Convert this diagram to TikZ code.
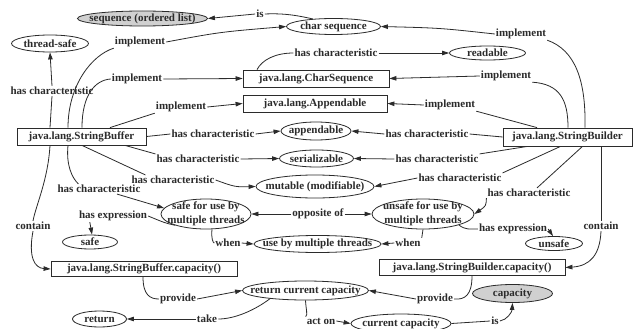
\documentclass[tikz,border=0pt]{standalone}
\usepackage{fontspec}
\setmainfont{Liberation Serif}
\usetikzlibrary{shapes.geometric,arrows.meta,calc}
\definecolor{ln}{HTML}{2B2B2B}
\definecolor{gfill}{HTML}{D0D0D0}
\begin{document}
\begin{tikzpicture}[x=1pt,y=-1pt,
  every node/.append style={font=\bfseries\fontsize{11}{14}\selectfont, text=ln},
  box/.style 2 args={draw=ln, line width=0.8pt, rectangle, minimum width=#1, minimum height=#2, inner sep=0pt},
  ell/.style 2 args={draw=ln, line width=0.8pt, ellipse, minimum width=#1, minimum height=#2, inner sep=0pt},
  lab/.style={inner sep=1pt},
  e/.style={draw=ln, line width=0.8pt},
  ar/.style={e, -{Triangle[length=7pt,width=4.5pt]}},
  ar2/.style={e, {Triangle[length=7pt,width=4.5pt]}-{Triangle[length=7pt,width=4.5pt]}}
]
\useasboundingbox (0,0) rectangle (634,329);
\fill[white] (0,0) rectangle (634,329);

% ---- concept nodes ----
\node[ell={130pt}{15pt}, fill=gfill, label={center:sequence (ordered list)}] (seq) at (142.5,18.5) {};
\node[ell={94pt}{16pt}, label={center:char sequence}] (cs) at (333.5,26.5) {};
\node[ell={77pt}{17pt}, label={center:thread-safe}] (ts) at (50,43.5) {};
\node[ell={76pt}{14pt}, label={center:readable}] (rd) at (487.5,53) {};
\node[box={146pt}{17pt}] (csb) at (316,78.5) {java.lang.CharSequence};
\node[box={144pt}{17pt}] (apb) at (315,103.5) {java.lang.Appendable};
\node[box={129pt}{17pt}] (sbf) at (81.5,136.5) {java.lang.StringBuffer};
\node[box={129pt}{18pt}] (sbd) at (567.5,137) {java.lang.StringBuilder};
\node[ell={70pt}{18pt}, label={center:appendable}] (app) at (316,131) {};
\node[ell={74pt}{17pt}, label={center:serializable}] (ser) at (316.5,158.5) {};
\node[ell={118pt}{23pt}, label={center:mutable (modifiable)}] (mut) at (315,186.5) {};
\node[ell={90pt}{30pt}, label={[align=center]center:{safe for use by\\multiple threads}}] (saf) at (206,214) {};
\node[ell={102pt}{30pt}, label={[align=center]center:{unsafe for use by\\multiple threads}}] (uns) at (423,214) {};
\node[ell={55pt}{14pt}, label={center:safe}] (sf) at (90,242) {};
\node[ell={57pt}{14pt}, label={center:unsafe}] (usf) at (554,243.5) {};
\node[ell={127pt}{17pt}, label={center:use by multiple threads}] (use) at (317.5,244) {};
\node[box={186pt}{15pt}] (sbfc) at (144,269) {java.lang.StringBuffer.capacity()};
\node[box={186pt}{16pt}] (sbdc) at (472,267.5) {java.lang.StringBuilder.capacity()};
\node[ell={126pt}{19pt}, label={center:return current capacity}] (rcc) at (305.5,290.5) {};
\node[ell={80pt}{18pt}, fill=gfill, label={center:capacity}] (cap) at (512.5,293.5) {};
\node[ell={54pt}{16pt}, label={center:return}] (ret) at (99.5,319) {};
\node[ell={100pt}{19pt}, label={center:current capacity}] (cc) at (401,323.5) {};

% ---- edge labels ----
\node[lab] (lis1) at (260,14) {is};
\node[lab] (lim1) at (140,42) {implement};
\node[lab] (lim2) at (137,79) {implement};
\node[lab] (lim3) at (181,107) {implement};
\node[lab] (lhcts) at (52,91) {has characteristic};
\node[lab] (lhcrd) at (336,53) {has characteristic};
\node[lab] (lim4) at (521,34) {implement};
\node[lab] (lim5) at (506,76) {implement};
\node[lab] (lim6) at (450,105) {implement};
\node[lab] (lhc1) at (213,134) {has characteristic};
\node[lab] (lhc2) at (198,159) {has characteristic};
\node[lab] (lhc3) at (173,180) {has characteristic};
\node[lab] (lhc4) at (99,189) {has characteristic};
\node[lab] (lhc5) at (427,134) {has characteristic};
\node[lab] (lhc6) at (437,159) {has characteristic};
\node[lab] (lhc7) at (460,178) {has characteristic};
\node[lab] (lhc8) at (529,193) {has characteristic};
\node[lab] (lhe1) at (113,216) {has expression};
\node[lab] (lhe2) at (513,229) {has expression};
\node[lab] (lct1) at (33,226) {contain};
\node[lab] (lct2) at (601,226) {contain};
\node[lab] (lop) at (318,214) {opposite of};
\node[lab] (lwh1) at (228,243) {when};
\node[lab] (lwh2) at (408,243) {when};
\node[lab] (lpr1) at (178,299) {provide};
\node[lab] (lpr2) at (435,299) {provide};
\node[lab] (ltk) at (207,319) {take};
\node[lab] (lao) at (321,321) {act on};
\node[lab] (lis2) at (495,321) {is};

% ---- connectors ----
% char sequence is sequence
\draw[e] (cs.160) .. controls (300,16) and (285,13) .. (lis1.east);
\draw[ar] (lis1.west) -- (seq.east);
% StringBuffer implement ...
\draw[e] ([xshift=-13.5pt]sbf.north) .. controls (68,85) and (92,55) .. (lim1.south west);
\draw[ar] (lim1.east) .. controls (220,32) .. (cs.west);
\draw[e] ([xshift=0.5pt]sbf.north) .. controls (82,95) and (95,80) .. (lim2.west);
\draw[ar] (lim2.east) -- (csb.west);
\draw[e] ([xshift=28.5pt]sbf.north) -- (lim3.south west);
\draw[ar] (lim3.east) -- (apb.west);
% thread-safe
\draw[e] ([xshift=-31.5pt]sbf.north) -- (lhcts.south);
\draw[ar] (lhcts.north) -- (ts.south);
% CharSequence readable
\draw[e] ([xshift=-59pt]csb.north) .. controls (262,60) and (275,53) .. (lhcrd.west);
\draw[ar] (lhcrd.east) -- (rd.west);
% StringBuilder implement ...
\draw[e] ([xshift=17.5pt]sbd.north) .. controls (586,80) and (575,50) .. (lim4.south east);
\draw[ar] (lim4.west) .. controls (440,28) .. (cs.east);
\draw[e] ([xshift=0.5pt]sbd.north) .. controls (568,100) and (560,84) .. (lim5.south east);
\draw[ar] (lim5.west) -- (csb.east);
\draw[e] ([xshift=-30.5pt]sbd.north) -- (lim6.south east);
\draw[ar] (lim6.west) -- (apb.east);
% StringBuffer characteristics
\draw[e] (sbf.east) -- (lhc1.west);
\draw[ar] (lhc1.east) -- (app.west);
\draw[e] ([xshift=43.5pt]sbf.south) -- (lhc2.north west);
\draw[ar] (lhc2.east) -- (ser.west);
\draw[e] ([xshift=0.5pt]sbf.south) -- ([xshift=15pt]lhc3.north west);
\draw[ar] (lhc3.east) .. controls (235,187) .. (mut.west);
\draw[e] ([xshift=-13.5pt]sbf.south) .. controls (66,165) and (72,178) .. ([xshift=22pt]lhc4.north west);
\draw[ar] ([xshift=18pt]lhc4.south) -- (saf.172);
% safe expression
\draw[e] (saf.200) .. controls (165,223) .. (lhe1.east);
\draw[ar] ([xshift=12pt]lhe1.south west) -- ([xshift=2pt]sf.north);
% contain (left)
\draw[e] ([xshift=-31.5pt]sbf.south) .. controls (48,180) and (36,205) .. (lct1.north);
\draw[ar] (lct1.south) .. controls (28,258) and (35,268) .. (sbfc.west);
% StringBuilder characteristics
\draw[e] (sbd.west) -- (lhc5.east);
\draw[ar] (lhc5.west) -- (app.east);
\draw[e] ([xshift=-40pt]sbd.south) -- (lhc6.north east);
\draw[ar] (lhc6.west) -- (ser.east);
\draw[e] ([xshift=-7pt]sbd.south) -- (lhc7.north east);
\draw[ar] (lhc7.west) -- (mut.east);
\draw[e] ([xshift=15pt]sbd.south) -- ([xshift=8pt]lhc8.north);
\draw[ar] (lhc8.south west) .. controls (486,206) .. (uns.east);
% unsafe expression
\draw[e] (uns.-17) .. controls (465,230) and (470,229) .. (lhe2.west);
\draw[ar] (lhe2.east) -- ([xshift=-1pt]usf.north);
% contain (right)
\draw[e] ([xshift=33.5pt]sbd.south) -- (lct2.north);
\draw[ar] (lct2.south) .. controls (600,255) and (590,266) .. (sbdc.east);
% opposite of
\draw[ar] (lop.west) -- (saf.east);
\draw[ar] (lop.east) -- (uns.west);
% when
\draw[e] ([xshift=6pt]saf.south) .. controls (211,238) and (213,243) .. (lwh1.west);
\draw[ar] (lwh1.east) -- (use.west);
\draw[e] (uns.south) -- (lwh2.north east);
\draw[ar] (lwh2.west) -- (use.east);
% provide
\draw[e] ([xshift=-1pt]sbfc.south) .. controls (143,295) and (150,299) .. (lpr1.west);
\draw[ar] (lpr1.east) -- (rcc.west);
\draw[e] (sbdc.south) .. controls (472,295) and (465,300) .. (lpr2.east);
\draw[ar] (lpr2.west) -- (rcc.east);
% take
\draw[e] (rcc.193) .. controls (255,310) and (235,319) .. (ltk.east);
\draw[ar] (ltk.west) -- (ret.east);
% act on
\draw[e] (rcc.south) .. controls (306,310) and (308,315) .. (lao.north west);
\draw[ar] (lao.east) -- (cc.west);
% is (capacity)
\draw[e] (cc.east) -- (lis2.west);
\draw[ar] (lis2.east) .. controls (507,320) and (512,312) .. (cap.south);
\end{tikzpicture}
\end{document}
